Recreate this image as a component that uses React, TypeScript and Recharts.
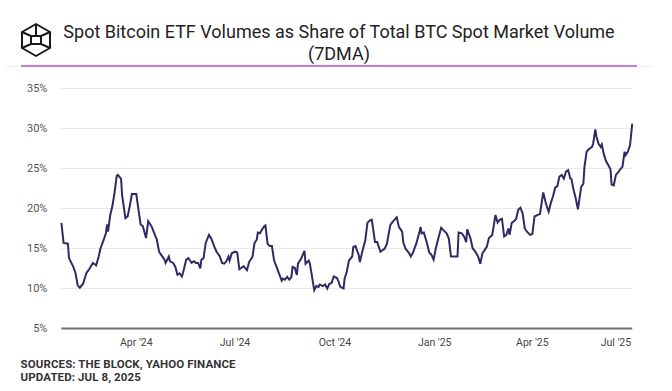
import { LineChart, Line, XAxis, YAxis, CartesianGrid } from 'recharts'

// days since 2024-01-23 (first 7DMA point)
const DAY = [
  0, 2, 6, 7, 11, 13, 15, 17, 20, 23, 26, 29, 32, 34, 36, 39, 41, 42, 43, 45,
  47, 49, 51, 52, 55, 56, 59, 61, 63, 65, 69, 71, 73, 75, 78, 80, 83, 85, 88, 90,
  92, 95, 96, 99, 100, 103, 105, 107, 109, 111, 112, 115, 117, 118, 120, 122, 124, 126, 128, 129,
  131, 133, 136, 138, 141, 143, 146, 148, 150, 152, 154, 155, 157, 160, 162, 164, 166, 168, 169, 171,
  173, 175, 176, 178, 180, 181, 183, 185, 187, 188, 190, 192, 194, 196, 198, 201, 203, 204, 206, 208,
  210, 212, 213, 215, 217, 218, 221, 224, 225, 228, 229, 231, 233, 235, 237, 238, 241, 243, 245, 247,
  249, 251, 254, 255, 257, 260, 261, 263, 265, 268, 269, 271, 274, 275, 278, 280, 282, 284, 286, 287,
  289, 291, 294, 296, 298, 300, 303, 305, 307, 309, 311, 314, 315, 317, 320, 322, 324, 327, 330, 331,
  332, 334, 337, 339, 341, 343, 345, 347, 350, 352, 355, 357, 359, 362, 365, 366, 369, 371, 373, 374,
  377, 379, 381, 384, 386, 388, 390, 392, 394, 397, 398, 400, 402, 404, 406, 408, 410, 412, 413, 415,
  417, 419, 421, 423, 425, 427, 429, 432, 434, 436, 439, 441, 444, 446, 447, 449, 451, 453, 455, 457,
  459, 461, 463, 465, 467, 469, 470, 472, 474, 476, 479, 481, 482, 484, 486, 489, 490, 492, 493, 495,
  497, 498, 500, 502, 504, 506, 507, 509, 511, 513, 515, 517, 519, 520, 522, 524, 525, 526,
]

// ETF share of total BTC spot volume, %
const SHARE = [
  18.2, 15.7, 15.6, 13.8, 12.7, 11.9, 10.4, 10.1, 10.6, 11.9, 12.5, 13.2, 12.9, 13.8, 15.0, 16.1, 16.9, 18.0, 17.1, 19.2,
  20.3, 22.0, 24.1, 24.2, 23.7, 21.6, 18.8, 19.0, 20.3, 21.8, 21.8, 19.9, 18.0, 17.8, 16.3, 18.4, 17.8, 17.1, 16.1, 14.6,
  14.2, 13.6, 13.2, 14.0, 13.4, 13.2, 12.7, 11.7, 11.9, 11.5, 11.9, 13.6, 13.8, 13.6, 13.2, 13.4, 13.2, 13.2, 12.5, 13.6,
  13.8, 15.7, 16.7, 16.3, 15.2, 14.6, 14.0, 13.2, 13.1, 13.4, 14.0, 13.5, 14.4, 14.6, 14.5, 12.4, 12.6, 12.8, 12.6, 12.3,
  13.3, 13.75, 13.9, 15.7, 16.1, 17.0, 16.9, 17.4, 17.8, 17.9, 15.6, 15.3, 15.3, 13.5, 12.8, 11.7, 11.0, 11.25, 11.1, 11.45,
  11.1, 11.45, 12.7, 12.6, 11.7, 13.1, 13.75, 14.7, 13.1, 13.5, 13.1, 11.45, 9.8, 10.3, 10.2, 10.5, 10.3, 10.5, 10.0, 10.6,
  10.7, 11.5, 11.3, 11.0, 10.2, 10.0, 11.25, 12.1, 13.5, 14.0, 15.2, 15.3, 14.2, 13.3, 15.0, 16.0, 18.2, 18.5, 18.6, 17.7,
  15.8, 15.8, 14.6, 14.8, 15.0, 15.6, 17.9, 18.3, 18.6, 18.9, 17.7, 17.1, 15.8, 15.0, 14.5, 14.0, 14.5, 15.6, 17.1, 17.7,
  16.9, 17.0, 15.6, 14.5, 14.2, 13.6, 15.0, 16.1, 17.6, 17.3, 16.9, 16.25, 14.0, 14.0, 14.0, 17.0, 16.9, 16.5, 15.8, 17.4,
  16.25, 15.0, 14.7, 14.0, 13.1, 14.4, 14.8, 15.2, 16.3, 16.7, 17.5, 19.2, 18.25, 18.6, 18.7, 16.5, 16.7, 17.5, 16.7, 18.2,
  18.4, 18.7, 19.85, 20.1, 19.4, 17.5, 17.1, 16.7, 16.8, 19.0, 19.2, 19.3, 22.0, 20.9, 20.4, 19.6, 20.7, 21.5, 22.6, 22.8,
  24.0, 24.2, 23.75, 24.6, 24.8, 23.75, 23.7, 22.3, 21.25, 19.9, 22.7, 23.1, 25.2, 27.1, 27.4, 27.7, 28.1, 29.9, 29.0, 28.1,
  27.7, 28.0, 26.7, 25.9, 25.4, 24.9, 23.0, 22.9, 24.2, 24.5, 24.9, 25.2, 27.1, 26.7, 27.1, 27.9, 29.2, 30.6,
]

const X_TICKS = [69, 160, 252, 344, 434, 525]
const X_LABELS = ["Apr '24", "Jul '24", "Oct '24", "Jan '25", "Apr '25", "Jul '25"]
const Y_TICKS = [5, 10, 15, 20, 25, 30, 35]

const data = DAY.map((d, i) => ({ day: d, share: SHARE[i] }))

const FONT = 'Roboto, "Noto Sans", sans-serif'

function XTick(props: any) {
  const { x, y, payload } = props
  const i = X_TICKS.indexOf(payload.value)
  const last = i === X_TICKS.length - 1
  return (
    <text x={x} y={y} dy="0.71em" textAnchor={last ? 'end' : 'middle'} fill="#444" fontSize={10.5} fontFamily={FONT}>
      {X_LABELS[i]}
    </text>
  )
}

function Logo() {
  return (
    <svg width={34} height={36} viewBox="0 0 34 36" style={{ position: 'absolute', left: 19, top: 22 }}>
      <g fill="none" stroke="#1a1a1a" strokeWidth={2} strokeLinejoin="round">
        <polygon points="17,2 31,10 31,26 17,34 3,26 3,10" />
        <polygon points="12,14 22,14 22,22 12,22" />
        <line x1="3" y1="10" x2="12" y2="14" />
        <line x1="31" y1="10" x2="22" y2="14" />
        <line x1="31" y1="26" x2="22" y2="22" />
        <line x1="3" y1="26" x2="12" y2="22" />
        <line x1="17" y1="2" x2="17" y2="14" />
      </g>
    </svg>
  )
}

export default function App() {
  return (
    <div style={{ position: 'absolute', left: 0, top: 0, width: 672, height: 391, background: '#fff', fontFamily: FONT }}>
      <Logo />
      <div
        style={{
          position: 'absolute', left: 0, top: 21, width: 678, textAlign: 'center',
          fontSize: 18, lineHeight: '21.6px', color: '#222',
        }}
      >
        Spot Bitcoin ETF Volumes as Share of Total BTC Spot Market Volume
        <br />
        (7DMA)
      </div>
      <div style={{ position: 'absolute', left: 6, top: 66, width: 646, height: 1, background: '#ececec' }} />
      <div style={{ position: 'absolute', left: 20.6, top: 64.5, width: 616, height: 2, background: '#c77bd9' }} />

      <div style={{ position: 'absolute', left: 0, top: 0 }}>
        <LineChart width={672} height={391} data={data} margin={{ top: 88.5, right: 39.8, left: 0, bottom: 32.5 }}>
          <CartesianGrid vertical={false} stroke="#e9e9e9" strokeWidth={1} />
          <XAxis
            dataKey="day"
            type="number"
            domain={[0, 526]}
            ticks={X_TICKS}
            interval={0}
            height={30}
            tickLine={false}
            tickMargin={4}
            axisLine={{ stroke: '#707070', strokeWidth: 2 }}
            tick={<XTick />}
          />
          <YAxis
            type="number"
            domain={[5, 35]}
            ticks={Y_TICKS}
            interval={0}
            width={61.4}
            axisLine={false}
            tickLine={false}
            tickMargin={8}
            tickFormatter={(v: number) => `${v}%`}
            tick={{ fill: '#555', fontSize: 11, fontFamily: FONT }}
          />
          <Line
            type="linear"
            dataKey="share"
            stroke="#2d2b63"
            strokeWidth={2}
            dot={false}
            isAnimationActive={false}
          />
        </LineChart>
      </div>

      <div
        style={{
          position: 'absolute', left: 20.6, top: 357.5, fontSize: 11.5, lineHeight: '13px',
          fontWeight: 700, color: '#333', letterSpacing: 0.1,
        }}
      >
        SOURCES: THE BLOCK, YAHOO FINANCE
        <br />
        UPDATED: JUL 8, 2025
      </div>
    </div>
  )
}
